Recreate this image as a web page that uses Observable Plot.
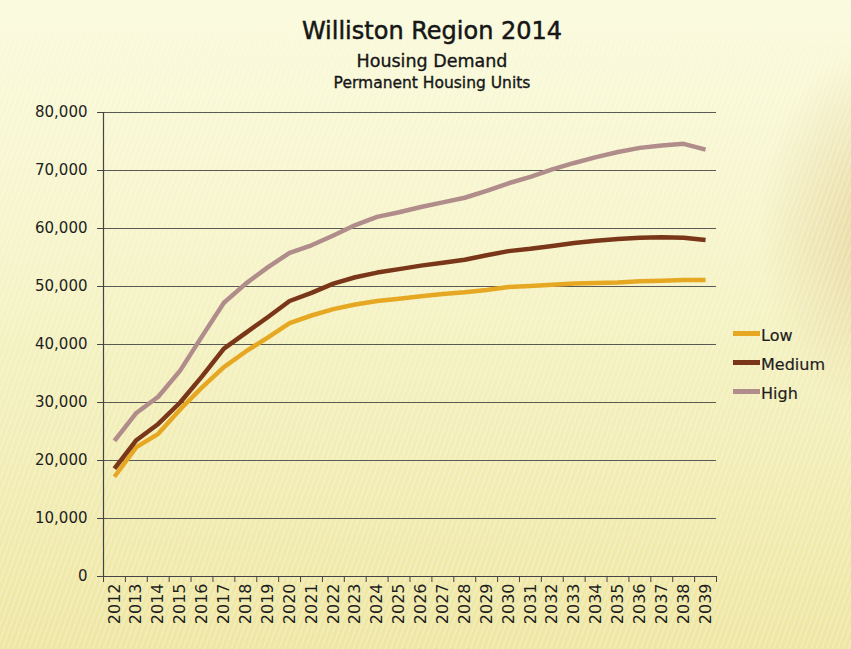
<!DOCTYPE html>
<html>
<head>
<meta charset="utf-8">
<script src="https://cdn.jsdelivr.net/npm/d3@7"></script>
<script src="https://cdn.jsdelivr.net/npm/@observablehq/plot@0.6"></script>
<style>
  html, body { margin: 0; padding: 0; }
  body {
    width: 851px; height: 649px; overflow: hidden; position: relative;
    font-family: "DejaVu Sans", sans-serif; color: #161616;
    background:
      repeating-linear-gradient(110deg, rgba(255,255,255,0) 0 3px, rgba(255,255,240,0.22) 3px 5px),
      radial-gradient(ellipse 170px 260px at 880px 230px, rgba(212,178,108,0.45), rgba(212,178,108,0) 72%),
      linear-gradient(180deg, #FAFADE 0%, #F5F3C6 45%, #EEE6A3 100%);
  }
  #chart { position: absolute; left: 0; top: 0; }
  .head { position: absolute; left: 0; width: 864px; text-align: center; white-space: nowrap; }
  #title { top: 17px; font-size: 24px; line-height: 28px; -webkit-text-stroke: 0.5px #161616; }
  #sub1 { top: 51px; font-size: 17.5px; line-height: 20px; -webkit-text-stroke: 0.35px #161616; }
  #sub2 { top: 74px; font-size: 15.5px; line-height: 18px; -webkit-text-stroke: 0.35px #161616; }
  .legend-item { position: absolute; left: 733px; height: 19px; font-size: 16px; line-height: 19px; color: #1e1e1e; white-space: nowrap; -webkit-text-stroke: 0.2px #1e1e1e; }
  .legend-item .sw { display: inline-block; width: 27px; height: 5px; vertical-align: middle; margin-right: 1px; position: relative; top: -3px; }
</style>
</head>
<body>
<div id="chart"></div>
<div class="head" id="title">Williston Region 2014</div>
<div class="head" id="sub1">Housing Demand</div>
<div class="head" id="sub2">Permanent Housing Units</div>
<div id="legend"></div>
<script>
// Projected permanent housing units, by scenario
const years = [2012, 2013, 2014, 2015, 2016, 2017, 2018, 2019, 2020, 2021,
               2022, 2023, 2024, 2025, 2026, 2027, 2028, 2029, 2030, 2031,
               2032, 2033, 2034, 2035, 2036, 2037, 2038, 2039];

const low = [17200, 22300, 24600, 28800, 32600, 36100, 38800, 41200, 43700, 45000,
             46100, 46900, 47500, 47900, 48300, 48700, 49000, 49400, 49900, 50100,
             50300, 50500, 50600, 50700, 50900, 51000, 51100, 51100];

const medium = [18600, 23500, 26300, 30000, 34500, 39300, 42000, 44700, 47500, 48900,
                50500, 51600, 52400, 53000, 53600, 54100, 54600, 55400, 56100, 56500,
                57000, 57500, 57900, 58200, 58400, 58500, 58400, 58000];

const high = [23400, 28200, 31000, 35500, 41400, 47200, 50500, 53300, 55800, 57100,
              58800, 60600, 62000, 62800, 63700, 64500, 65300, 66500, 67800, 68900,
              70200, 71300, 72300, 73200, 73900, 74300, 74600, 73600];

const seriesNames = ["Low", "Medium", "High"];
const seriesColors = ["#E6A823", "#7A3618", "#B08C8B"];
const yTicks = [0, 10000, 20000, 30000, 40000, 50000, 60000, 70000, 80000];

// Long-format table for the line mark
const seriesValues = [low, medium, high];
const rows = seriesNames.flatMap((name, k) =>
  seriesValues[k].map((v, i) => ({year: years[i], value: v, series: name}))
);

// Category boundaries for the x-axis tick marks
const boundaries = years.map(y => y - 0.5).concat([years[years.length - 1] + 0.5]);

const chart = Plot.plot({
  width: 851,
  height: 649,
  marginLeft: 103,
  marginRight: 135,
  marginTop: 112,
  marginBottom: 73,
  style: {background: "transparent", fontFamily: "DejaVu Sans, sans-serif", color: "#1e1e1e", overflow: "visible"},
  x: {domain: [years[0] - 0.5, years[years.length - 1] + 0.5]},
  y: {domain: [0, 80000]},
  color: {domain: seriesNames, range: seriesColors},
  marks: [
    Plot.ruleY(yTicks.slice(1), {stroke: "#5a5a54", strokeWidth: 1.1}),
    Plot.lineY(rows, {x: "year", y: "value", stroke: "series", strokeWidth: 4.5, strokeLinejoin: "round", strokeLinecap: "butt"}),
    Plot.axisY({ticks: yTicks, tickSize: 6, tickPadding: 10, tickFormat: d3.format(","), fontSize: 15, label: null, stroke: "#444"}),
    Plot.axisX({ticks: years, tickSize: 0, tickPadding: 7, tickRotate: -90, tickFormat: d => String(d), fontSize: 16, label: null}),
    Plot.axisX({ticks: boundaries, tickSize: 6, tickFormat: () => "", label: null, stroke: "#444"}),
    Plot.ruleX([years[0] - 0.5], {stroke: "#444", strokeWidth: 1.2}),
    Plot.ruleY([0], {stroke: "#444", strokeWidth: 1.2})
  ]
});
document.getElementById("chart").appendChild(chart);

// Legend to the right of the plot
const legendTops = [326, 355, 383.5];
const legend = document.getElementById("legend");
seriesNames.forEach((name, k) => {
  const item = document.createElement("div");
  item.className = "legend-item";
  item.style.top = legendTops[k] + "px";
  const sw = document.createElement("span");
  sw.className = "sw";
  sw.style.background = seriesColors[k];
  item.appendChild(sw);
  item.appendChild(document.createTextNode(name));
  legend.appendChild(item);
});
</script>
</body>
</html>
